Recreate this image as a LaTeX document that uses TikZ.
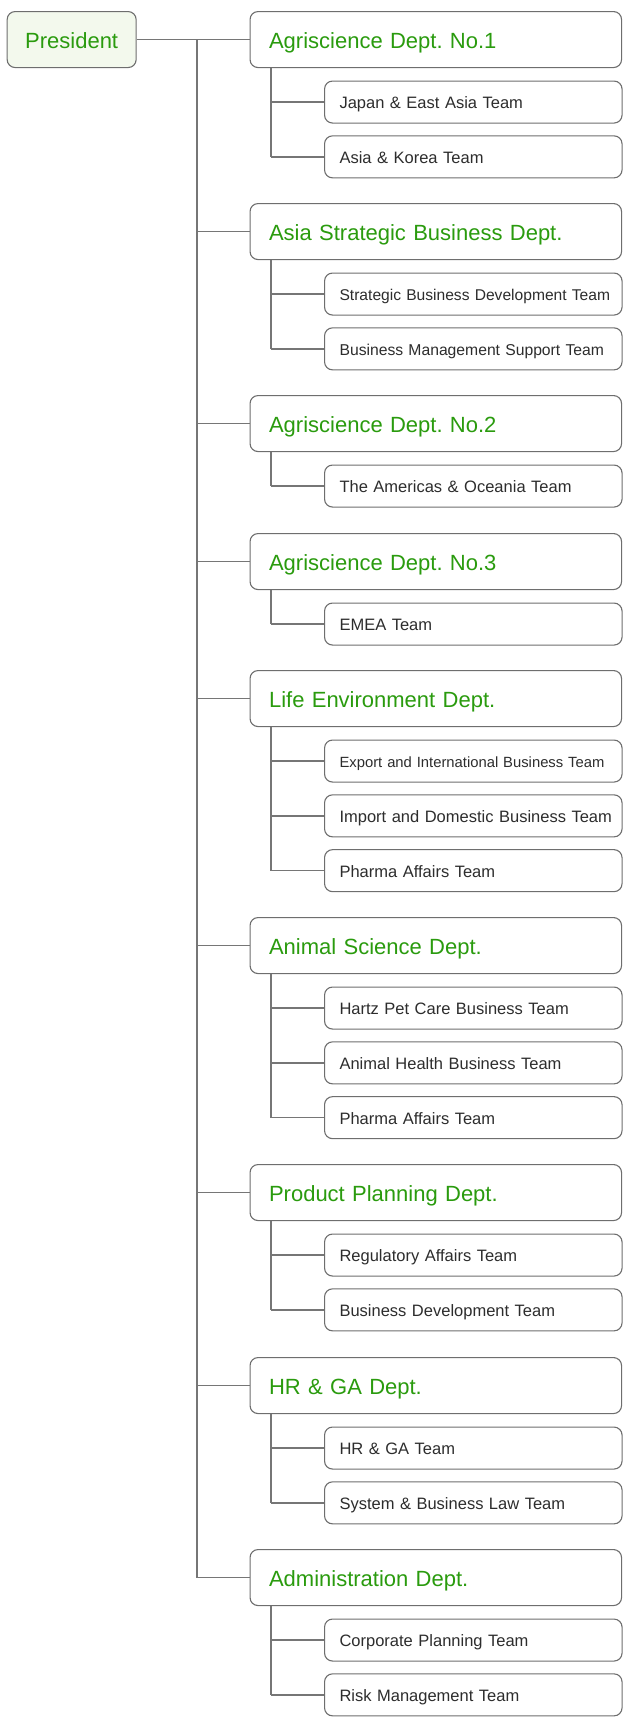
\documentclass[tikz,border=0pt]{standalone}
\usepackage{fontspec}
\setmainfont{Liberation Sans}
\frenchspacing
\definecolor{grn}{RGB}{42,155,14}
\definecolor{ln}{RGB}{118,118,118}
\definecolor{bd}{RGB}{110,110,110}
\definecolor{pfill}{RGB}{243,249,237}
\definecolor{txt}{RGB}{45,45,45}
\begin{document}
\begin{tikzpicture}[x=1pt,y=-1pt,
  box/.style={draw=bd, line width=1.1pt, rounded corners=8pt, fill=white},
  pres/.style={box, anchor=north west, fill=pfill, minimum width=129pt, minimum height=56pt, inner sep=0pt, text height=17.8pt, text depth=0pt, text=grn, font=\fontsize{22}{26}\selectfont},
  dept/.style={box, anchor=north west, minimum height=56pt, text width=333.5pt, inner xsep=19pt, inner ysep=0pt, text height=17.8pt, text depth=0pt, align=left, text=grn, font=\fontsize{22}{26}\selectfont},
  team/.style={box, anchor=north west, minimum height=42pt, text width=267.5pt, inner xsep=15pt, inner ysep=0pt, text height=13.8pt, text depth=0pt, align=left, text=txt, font=\fontsize{16.5}{20}\selectfont},
  conn/.style={draw=ln, line width=1.3pt}]
\useasboundingbox (0,0) rectangle (630,1730);

\node[pres] (pres) at (6.6,11) {President};

\node[dept] (d1) at (249.5,11) {Agriscience Dept. No.1};
\node[team] (t11) at (324,80.5) {Japan \& East Asia Team};
\node[team] (t12) at (324,135.3) {Asia \& Korea Team};

\node[dept] (d2) at (249.5,203) {Asia Strategic Business Dept.};
\node[team, font=\fontsize{15.6}{19}\selectfont] (t21) at (324,272.5) {\mbox{Strategic Business Development Team}};
\node[team, font=\fontsize{15.7}{19}\selectfont] (t22) at (324,327.3) {\mbox{Business Management Support Team}};

\node[dept] (d3) at (249.5,395) {Agriscience Dept. No.2};
\node[team] (t31) at (324,464.5) {The Americas \& Oceania Team};

\node[dept] (d4) at (249.5,533) {Agriscience Dept. No.3};
\node[team] (t41) at (324,602.5) {EMEA Team};

\node[dept] (d5) at (249.5,670) {Life Environment Dept.};
\node[team, font=\fontsize{14.8}{18}\selectfont] (t51) at (324,739.5) {\mbox{Export and International Business Team}};
\node[team] (t52) at (324,794.3) {\mbox{Import and Domestic Business Team}};
\node[team] (t53) at (324,849.1) {Pharma Affairs Team};

\node[dept] (d6) at (249.5,917) {Animal Science Dept.};
\node[team] (t61) at (324,986.5) {Hartz Pet Care Business Team};
\node[team] (t62) at (324,1041.3) {Animal Health Business Team};
\node[team] (t63) at (324,1096.1) {Pharma Affairs Team};

\node[dept] (d7) at (249.5,1164) {Product Planning Dept.};
\node[team] (t71) at (324,1233.5) {Regulatory Affairs Team};
\node[team] (t72) at (324,1288.3) {Business Development Team};

\node[dept] (d8) at (249.5,1357) {HR \& GA Dept.};
\node[team] (t81) at (324,1426.5) {HR \& GA Team};
\node[team] (t82) at (324,1481.3) {System \& Business Law Team};

\node[dept] (d9) at (249.5,1549) {Administration Dept.};
\node[team] (t91) at (324,1618.5) {Corporate Planning Team};
\node[team] (t92) at (324,1673.3) {Risk Management Team};

\coordinate (tx) at (197,0);
\coordinate (sx) at (271,0);

\draw[conn] (pres.east) -- (d1.west);
\draw[conn] (tx |- d1.west) -- (tx |- d9.west);
\foreach \d in {d2,d3,d4,d5,d6,d7,d8,d9}
  \draw[conn] (tx |- \d.west) -- (\d.west);

\foreach \d/\last in {d1/t12,d2/t22,d3/t31,d4/t41,d5/t53,d6/t63,d7/t72,d8/t82,d9/t92}
  \draw[conn] (sx |- \d.south) -- (sx |- \last.west);

\foreach \t in {t11,t12,t21,t22,t31,t41,t51,t52,t53,t61,t62,t63,t71,t72,t81,t82,t91,t92}
  \draw[conn] (sx |- \t.west) -- (\t.west);
\end{tikzpicture}
\end{document}
